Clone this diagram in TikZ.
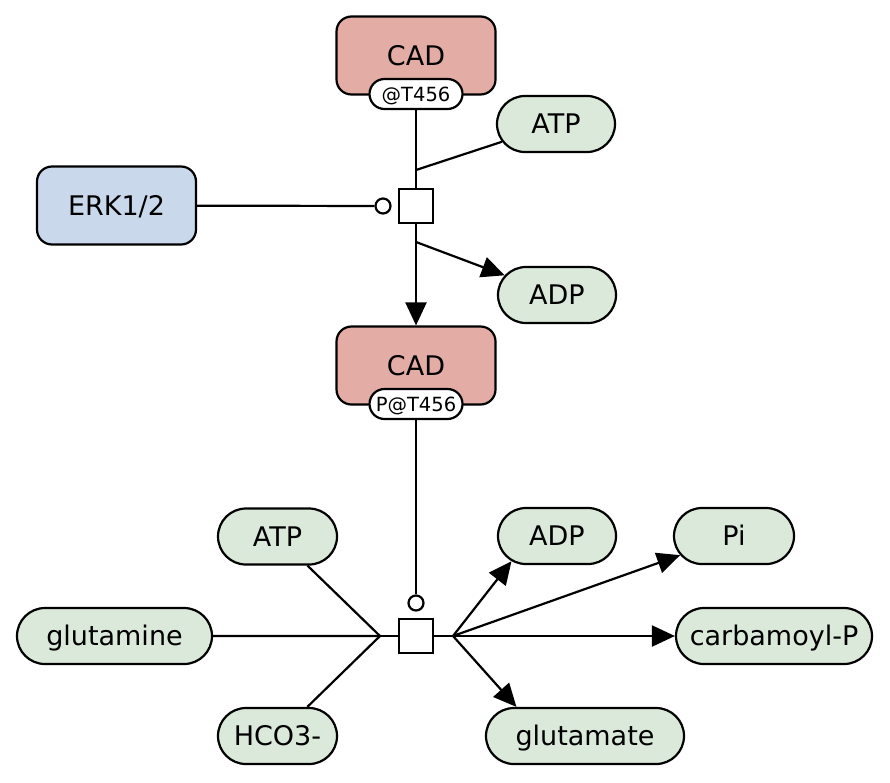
\documentclass[tikz,border=0pt]{standalone}
\usepackage{fontspec}
\setmainfont{DejaVu Sans}
\usetikzlibrary{arrows.meta,shapes.misc}
\definecolor{cadfill}{HTML}{E3ACA5}
\definecolor{erkfill}{HTML}{C9D9EB}
\definecolor{smfill}{HTML}{DBE9DB}
\begin{document}
\begin{tikzpicture}[x=1pt,y=-1pt,
  base/.style={draw=black, line width=2.2pt, inner sep=0pt, font=\fontsize{27}{32}\selectfont, text height=19.4pt, text depth=0pt},
  macro/.style={base, rectangle, rounded corners=15pt, minimum width=159pt, minimum height=78pt},
  protein/.style={macro, fill=cadfill},
  kinase/.style={macro, fill=erkfill},
  small/.style={base, rounded rectangle, fill=smfill, minimum height=56pt},
  uinfo/.style={base, rounded rectangle, fill=white, minimum width=93pt, minimum height=30pt, font=\fontsize{19.5}{23}\selectfont, text height=14pt},
  proc/.style={draw, line width=2.2pt, fill=white, minimum size=34pt, inner sep=0pt},
  modc/.style={draw, circle, line width=2.2pt, fill=white, minimum size=15pt, inner sep=0pt},
  link/.style={line width=2.2pt},
  prod/.style={link, -{Triangle[length=23pt,width=21pt]}}
]
\useasboundingbox (0,0) rectangle (890,782);

% upper part
\node[protein] (cad1) at (416,55.5) {CAD};
\node[uinfo] (pill1) at (416,94) {@T456};
\node[kinase] (erk) at (116.5,205.5) {ERK1/2};
\node[small, minimum width=118pt] (atp1) at (556,124) {ATP};
\node[small, minimum width=118pt] (adp1) at (557,295) {ADP};
\node[proc] (sq1) at (416,206) {};
\node[modc] (c1) at (383,206) {};
\coordinate (j1) at (416,170);
\coordinate (j2) at (416,242);

% lower part
\node[protein] (cad2) at (416,365.5) {CAD};
\node[uinfo] (pill2) at (416,404) {P@T456};
\node[modc] (c2) at (416,603) {};
\node[proc] (sq2) at (416,636) {};
\node[small, minimum width=119pt] (atp2) at (277.5,536.5) {ATP};
\node[small, minimum width=195pt] (gln) at (114.5,636) {glutamine};
\node[small, minimum width=119pt] (hco3) at (277.5,736) {HCO3-};
\node[small, minimum width=118pt] (adp2) at (557,536) {ADP};
\node[small, minimum width=120pt] (pi) at (734,536) {Pi};
\node[small, minimum width=196pt] (carb) at (774,636) {carbamoyl-P};
\node[small, minimum width=198pt] (glu) at (585,736) {glutamate};
\coordinate (jL) at (380,636);
\coordinate (jR) at (453,636);

% upper connectors
\draw[link] (pill1.south) -- (sq1.north);
\draw[link] (atp1) -- (j1);
\draw[link] (erk) -- (c1);
\draw[link] (sq1.south) -- (j2);
\draw[prod] (j2) -- (adp1);
\draw[prod] (j2) -- (cad2.north);

% lower connectors
\draw[link] (pill2.south) -- (c2);
\draw[link] (sq2.west) -- (jL);
\draw[link] (atp2) -- (jL);
\draw[link] (gln) -- (jL);
\draw[link] (hco3) -- (jL);
\draw[link] (sq2.east) -- (jR);
\draw[prod] (jR) -- (adp2.209);
\draw[prod] (jR) -- (pi);
\draw[prod] (jR) -- (carb);
\draw[prod] (jR) -- (glu.157.6);
\end{tikzpicture}
\end{document}
